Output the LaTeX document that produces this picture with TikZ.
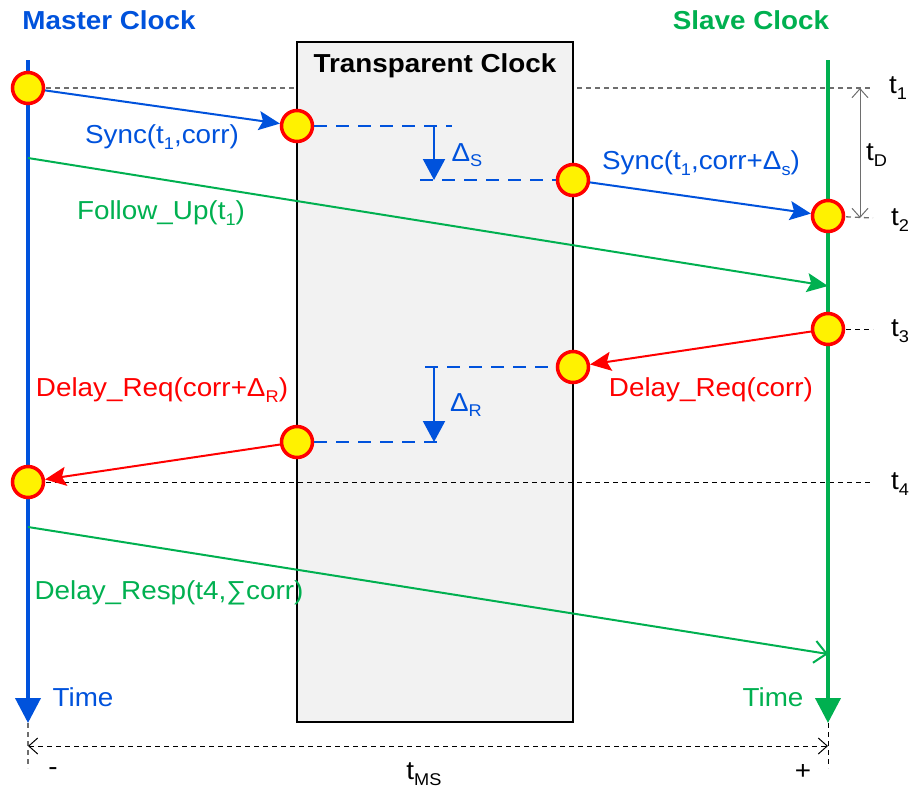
\documentclass[tikz,border=0pt]{standalone}
\usepackage{fontspec}
\setmainfont[FakeStretch=1.07]{Liberation Sans}
\usetikzlibrary{arrows.meta}
\definecolor{mblue}{RGB}{0,82,220}
\definecolor{mgreen}{RGB}{0,176,80}
\definecolor{boxgray}{RGB}{242,242,242}
\definecolor{dgray}{RGB}{110,110,110}
\newcommand\sbs[1]{\raisebox{-0.22em}{\fontsize{17}{17}\selectfont #1}}
\begin{document}
\begin{tikzpicture}[x=1pt,y=-1pt,
  txt/.style={font=\fontsize{26}{30}\selectfont, inner sep=0pt},
  ttl/.style={font=\fontsize{26}{30}\selectfont\bfseries, inner sep=0pt},
  evt/.style={circle, draw=red, fill=yellow, line width=3.5pt, minimum size=31pt, inner sep=0pt},
  msg/.style={line width=2pt, -{Stealth[length=21pt,width=19pt,inset=4pt]}},
  timeline/.style={line width=4pt, -{Triangle[length=25pt,width=25pt]}},
  dashblue/.style={mblue, line width=2pt, dash pattern=on 13pt off 9pt},
  delta/.style={mblue, line width=2pt, -{Triangle[length=21pt,width=22pt]}},
  grayline/.style={dgray, line width=1.3pt, dash pattern=on 5pt off 4pt},
  blackline/.style={black, line width=1pt, dash pattern=on 5pt off 4pt},
  openarr/.style={line width=1pt, {Straight Barb[length=9pt,width=16pt]}-{Straight Barb[length=9pt,width=16pt]}}
]
\useasboundingbox (0,0) rectangle (911,788);

% coordinates
\coordinate (mtop) at (28,60);
\coordinate (mbot) at (28,723);
\coordinate (stop) at (828,60);
\coordinate (sbot) at (828,723);
\coordinate (t1a) at (28,88);
\coordinate (t1b) at (873,88);
\coordinate (t2b) at (873,218);
\coordinate (t3b) at (873,329);
\coordinate (t4a) at (28,482);
\coordinate (t4b) at (873,482);

% t1 reference line (behind box)
\draw[grayline] (t1a) -- (t1b);

% transparent clock box
\node[draw=black, fill=boxgray, line width=2pt, minimum width=276pt, minimum height=680pt, inner sep=0pt] (box) at (435,382) {};
\node[ttl] (boxlbl) at (435,66) {Transparent Clock};

% t4 line (over box)
\draw[blackline] (t4a) -- (t4b);

% time lines
\draw[mblue, timeline] (mtop) -- (mbot);
\draw[mgreen, timeline] (stop) -- (sbot);

% t2, t3 short lines
\coordinate (s1c) at (828,216);
\coordinate (s2c) at (828,329);
\draw[grayline] (s1c) -- (t2b);
\draw[blackline] (s2c) -- (t3b);

% event nodes
\node[evt] (m1) at (28,88) {};
\node[evt] (tc1) at (297,126) {};
\node[evt] (tc2) at (573,180) {};
\node[evt] (s1) at (828,216) {};
\node[evt] (s2) at (828,329) {};
\node[evt] (tc3) at (573,367) {};
\node[evt] (tc4) at (297,442) {};
\node[evt] (m2) at (28,482) {};

% delta S
\coordinate (d1) at (452,126);
\coordinate (d2) at (420,180);
\coordinate (dsa) at (434,126);
\coordinate (dsb) at (434,180);
\draw[dashblue] (tc1) -- (d1);
\draw[dashblue] (d2) -- (tc2);
\draw[delta] (dsa) -- (dsb);

% delta R
\coordinate (d3) at (425,367);
\coordinate (d4) at (437,442);
\coordinate (dra) at (434,367);
\coordinate (drb) at (434,442);
\draw[dashblue] (d3) -- (tc3);
\draw[dashblue] (tc4) -- (d4);
\draw[delta] (dra) -- (drb);

% messages
\draw[mblue, msg] (m1) -- (tc1);
\draw[mblue, msg] (tc2) -- (s1);
\draw[red, msg] (s2) -- (tc3);
\draw[red, msg] (tc4) -- (m2);
\coordinate (fu1) at (28,158);
\coordinate (fu2) at (828,286);
\draw[mgreen, msg] (fu1) -- (fu2);
\coordinate (dr1) at (28,527);
\coordinate (dr2) at (828,654);
\draw[mgreen, line width=2pt, -{Straight Barb[length=12pt,width=22pt]}] (dr1) -- (dr2);

% tD arrow
\coordinate (tda) at (860,88);
\coordinate (tdb) at (860,218);
\draw[dgray, openarr] (tda) -- (tdb);

% bottom t_MS
\coordinate (bl1) at (28,768);
\coordinate (br1) at (828,768);
\coordinate (hl) at (28,746);
\coordinate (hr) at (828,746);
\draw[grayline] (mbot) -- (bl1);
\draw[blackline] (sbot) -- (br1);
\draw[black, openarr, dash pattern=on 5pt off 4pt] (hl) -- (hr);

% titles
\node[ttl, text=mblue] (mtitle) at (109,20) {Master Clock};
\node[ttl, text=mgreen] (stitle) at (751,20) {Slave Clock};

% labels
\node[txt, text=mblue] (l1) at (162,137) {Sync(t\sbs{1},corr)};
\node[txt, text=mgreen] (l2) at (161,213) {Follow\_Up(t\sbs{1})};
\node[txt, text=mblue] (l3) at (701,163) {Sync(t\sbs{1},corr+Δ\sbs{s})};
\node[txt, text=mblue] (l4) at (467,155) {Δ\sbs{S}};
\node[txt, text=red] (l5) at (162,390) {Delay\_Req(corr+Δ\sbs{R})};
\node[txt, text=red] (l6) at (711,390) {Delay\_Req(corr)};
\node[txt, text=mblue] (l7) at (466,405) {Δ\sbs{R}};
\node[txt, text=mgreen] (l8) at (169,593) {Delay\_Resp(t4,∑corr)};
\node[txt, text=mblue] (l9) at (83,697) {Time};
\node[txt, text=mgreen] (l10) at (773,697) {Time};

\node[txt, anchor=west] (lt1) at (889,88) {t\sbs{1}};
\node[txt, anchor=west] (lt2) at (891,220) {t\sbs{2}};
\node[txt, anchor=west] (lt3) at (891,331) {t\sbs{3}};
\node[txt, anchor=west] (lt4) at (891,484) {t\sbs{4}};
\node[txt, anchor=west] (ltd) at (866,155) {t\sbs{D}};

\node[txt] (lminus) at (53,772) {-};
\node[txt] (lplus) at (803,772) {+};
\node[txt] (ltms) at (424,774) {t\sbs{MS}};
\end{tikzpicture}
\end{document}
